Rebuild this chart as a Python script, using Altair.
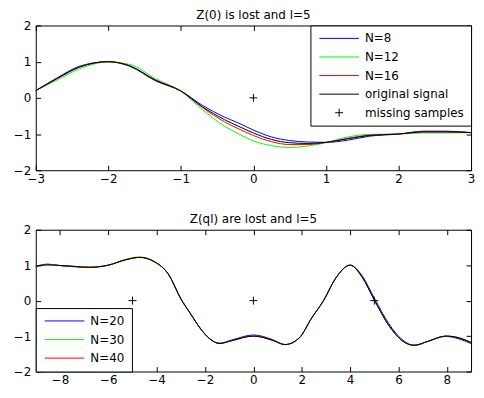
import altair as alt
import pandas as pd

FONT = "DejaVu Sans"
FS = 12

# ---------------- top panel data ----------------
top_x = [-3, -2.7, -2.4, -2, -1.7, -1.35, -1, -0.7, -0.4, -0.2, 0, 0.25, 0.5, 0.75, 1, 1.3, 1.6, 2, 2.35, 2.65, 3]
top_orig = [0.20, 0.54, 0.85, 1.00, 0.88, 0.49, 0.19, -0.25, -0.60, -0.79, -0.97, -1.15, -1.24, -1.26, -1.23, -1.13, -1.04, -1.00, -0.94, -0.94, -0.96]
top_n8 = [0.20, 0.56, 0.87, 1.00, 0.87, 0.47, 0.19, -0.21, -0.53, -0.70, -0.89, -1.08, -1.18, -1.22, -1.23, -1.17, -1.06, -1.00, -0.92, -0.92, -0.96]
top_n12 = [0.20, 0.50, 0.80, 0.99, 0.92, 0.53, 0.18, -0.33, -0.78, -1.00, -1.19, -1.32, -1.37, -1.33, -1.24, -1.08, -1.01, -1.00, -0.97, -0.97, -0.96]
top_n16 = [0.20, 0.54, 0.85, 1.00, 0.88, 0.49, 0.19, -0.27, -0.66, -0.86, -1.04, -1.21, -1.29, -1.29, -1.23, -1.12, -1.03, -1.00, -0.94, -0.94, -0.96]
top_miss_x = [0]
top_miss_y = [0]
top_series = ["N=8", "N=12", "N=16", "original signal", "missing samples"]
top_colors = ["#0000ff", "#00ff00", "#ff0000", "#000000", "#000000"]
top_xticks = [-3, -2, -1, 0, 1, 2, 3]
top_title = "Z(0) is lost and l=5"

# ---------------- bottom panel data ----------------
bot_x = [-9, -8.5, -8, -7.5, -6.8, -6, -5.3, -4.7, -4.1, -3.5, -3, -2.6, -2.2, -1.8, -1.4, -0.9, 0, 0.8, 1.3, 1.9,
         2.4, 2.9, 3.4, 4, 4.5, 5, 5.6, 6.15, 6.65, 7.25, 7.95, 8.5, 9]
bot_orig = [0.97, 1.01, 0.99, 0.97, 0.94, 1.00, 1.15, 1.22, 1.10, 0.73, 0.05, -0.37, -0.78, -1.08, -1.21, -1.13, -1.00, -1.12, -1.24, -1.05,
            -0.50, 0.00, 0.63, 1.00, 0.66, 0.02, -0.70, -1.13, -1.26, -1.14, -1.00, -1.05, -1.18]
bot_n20 = [0.97, 1.03, 0.99, 0.96, 0.94, 1.00, 1.15, 1.22, 1.10, 0.73, 0.05, -0.37, -0.78, -1.08, -1.20, -1.11, -0.97, -1.10, -1.24, -1.05,
           -0.50, 0.00, 0.63, 1.00, 0.70, 0.07, -0.65, -1.10, -1.26, -1.14, -1.01, -1.08, -1.21]
bot_n30 = [0.97, 1.02, 0.99, 0.97, 0.94, 1.00, 1.16, 1.235, 1.10, 0.73, 0.05, -0.37, -0.78, -1.08, -1.21, -1.13, -1.00, -1.12, -1.24, -1.05,
           -0.50, 0.00, 0.63, 1.00, 0.66, 0.02, -0.70, -1.13, -1.26, -1.14, -1.00, -1.05, -1.18]
bot_n40 = [0.97, 1.01, 0.99, 0.97, 0.94, 1.00, 1.15, 1.22, 1.10, 0.73, 0.05, -0.37, -0.78, -1.08, -1.21, -1.13, -1.00, -1.12, -1.24, -1.05,
           -0.50, 0.00, 0.63, 1.00, 0.66, 0.02, -0.70, -1.13, -1.26, -1.14, -1.00, -1.05, -1.18]
bot_miss_x = [-5, 0, 5]
bot_miss_y = [0, 0, 0]
bot_series = ["N=20", "N=30", "N=40"]
bot_colors = ["#0000ff", "#00ff00", "#ff0000"]
bot_xticks = [-8, -6, -4, -2, 0, 2, 4, 6, 8]
bot_title = "Z(ql) are lost and l=5"

yticks = [-2, -1, 0, 1, 2]

PLUS = "M-0.8,0H0.8M0,-0.8V0.8"   # thin "+" glyph (scaled by sqrt(size)/2)
STROKE = "M-4,0H4"                 # 40px legend line sample at size 100


def long_df(xs, named):
    rows = []
    for name, ys in named:
        for xv, yv in zip(xs, ys):
            rows.append({"x": xv, "y": yv, "series": name})
    return pd.DataFrame(rows)


def ax(orient, values, labels, pad, extent=None):
    kw = dict(orient=orient, values=values, labels=labels, domain=False, grid=False,
              ticks=True, tickSize=5, tickWidth=1, tickColor="black", offset=-5,
              labelFont=FONT, labelFontSize=FS, labelColor="black", labelPadding=pad,
              labelFlush=False, labelOverlap=False)
    if extent is not None:
        kw["minExtent"] = extent
        kw["maxExtent"] = extent
    return alt.Axis(**kw)


def legend(orient):
    return alt.Legend(orient=orient, offset=0, strokeColor="black", fillColor="white",
                      padding=7, rowPadding=6.75, labelOffset=20, symbolOffset=16,
                      symbolSize=100, symbolStrokeWidth=1, symbolType=STROKE,
                      symbolFillColor="transparent", labelFont=FONT, labelFontSize=FS,
                      labelColor="black", cornerRadius=0)


def panel(xs, named, orig, mx, my, xdom, xticks, series, colors, legend_orient, title, height, full_legend):
    lines_df = long_df(xs, named)
    orig_df = long_df(xs, [("original signal", orig)])
    miss_df = pd.DataFrame({"x": mx, "y": my, "series": ["missing samples"] * len(mx)})
    xs_scale = alt.Scale(domain=xdom, nice=False, zero=False)
    ys_scale = alt.Scale(domain=[-2, 2], nice=False, zero=False)
    col = alt.Color("series:N", scale=alt.Scale(domain=series, range=colors),
                    legend=legend(legend_orient), title=None)

    l1 = alt.Chart(lines_df).mark_line(strokeWidth=1, interpolate="monotone").encode(
        x=alt.X("x:Q", scale=xs_scale, axis=ax("bottom", xticks, True, 3), title=None),
        y=alt.Y("y:Q", scale=ys_scale, axis=ax("left", yticks, True, 5), title=None),
        color=col,
    )
    l2 = alt.Chart(orig_df).mark_line(strokeWidth=1, interpolate="monotone").encode(
        x=alt.X("x:Q", scale=xs_scale, axis=None, title=None),
        y=alt.Y("y:Q", scale=ys_scale, axis=None, title=None),
        color=col if full_legend else alt.value("#000000"),
    )
    xt = alt.X("x:Q", scale=xs_scale, axis=ax("top", xticks, False, 0, 0), title=None)
    yr = alt.Y("y:Q", scale=ys_scale, axis=ax("right", yticks, False, 0, 0), title=None)
    if full_legend:
        shp = alt.Shape("series:N",
                        scale=alt.Scale(domain=series, range=[STROKE] * (len(series) - 1) + [PLUS]),
                        legend=legend(legend_orient), title=None)
        l3 = alt.Chart(miss_df).mark_point(size=100, filled=False, strokeWidth=1, opacity=1).encode(
            x=xt, y=yr, color=col, shape=shp,
        )
    else:
        l3 = alt.Chart(miss_df).mark_point(shape=PLUS, size=100, filled=False, strokeWidth=1,
                                           opacity=1, color="#000000").encode(x=xt, y=yr)
    return alt.layer(l1, l2, l3).resolve_axis(x="independent", y="independent").properties(
        width=439, height=height,
        title=alt.TitleParams(text=title, font=FONT, fontSize=FS, fontWeight="normal",
                              color="black", offset=-2, frame="group", anchor="middle"),
    )


top = panel(top_x, [("N=8", top_n8), ("N=12", top_n12), ("N=16", top_n16)], top_orig,
            top_miss_x, top_miss_y, [-3, 3], top_xticks, top_series, top_colors,
            "top-right", top_title, 146, True)
bottom = panel(bot_x, [("N=20", bot_n20), ("N=30", bot_n30), ("N=40", bot_n40)], bot_orig,
               bot_miss_x, bot_miss_y, [-9, 9], bot_xticks, bot_series, bot_colors,
               "bottom-left", bot_title, 143, False)

chart = alt.vconcat(top, bottom, spacing=27).resolve_scale(
    x="independent", y="independent", color="independent", shape="independent"
).resolve_legend(color="independent", shape="independent").properties(
    padding={"left": 4, "top": -2, "right": 0, "bottom": 0},
    background="white",
).configure_view(stroke="black", strokeWidth=1)

chart.save("out.html", embed_options={"renderer": "svg", "actions": False})
